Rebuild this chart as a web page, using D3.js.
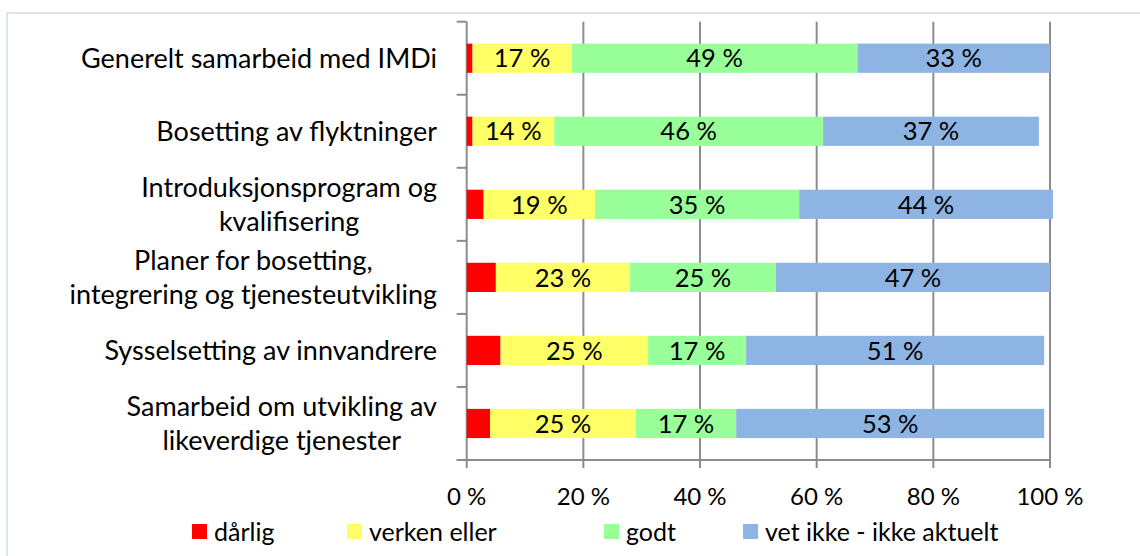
<!DOCTYPE html>
<html>
<head>
<meta charset="utf-8">
<script src="https://cdn.jsdelivr.net/npm/d3@7"></script>
<style>
  body { margin: 0; background: #fff; }
  svg text { font-family: Lato, "Open Sans", sans-serif; fill: #000; }
</style>
</head>
<body>
<svg width="1140" height="556"></svg>
<script>
const categories = [
  "Generelt samarbeid med IMDi",
  "Bosetting av flyktninger",
  "Introduksjonsprogram og kvalifisering",
  "Planer for bosetting, integrering og tjenesteutvikling",
  "Sysselsetting av innvandrere",
  "Samarbeid om utvikling av likeverdige tjenester"
];
const categoryLines = [
  ["Generelt samarbeid med IMDi"],
  ["Bosetting av flyktninger"],
  ["Introduksjonsprogram og", "kvalifisering"],
  ["Planer for bosetting,", "integrering og tjenesteutvikling"],
  ["Sysselsetting av innvandrere"],
  ["Samarbeid om utvikling av", "likeverdige tjenester"]
];
const seriesNames = ["dårlig", "verken eller", "godt", "vet ikke - ikke aktuelt"];
const seriesColors = ["#ff0000", "#ffff66", "#99ff99", "#8eb4e3"];

// percent values per category
const darlig = [1.0, 1.0, 2.9, 5.0, 5.8, 4.0];
const verken = [17.0, 14.0, 19.1, 23.0, 25.3, 25.0];
const godt = [49.0, 46.1, 35.0, 25.0, 16.8, 17.2];
const vetIkke = [33.0, 37.0, 43.5, 47.0, 51.1, 52.8];
const showLabel = [false, true, true, true];

const xTicks = [0, 20, 40, 60, 80, 100];

const rows = categories.map((c, i) => ({
  cat: c,
  "dårlig": darlig[i],
  "verken eller": verken[i],
  "godt": godt[i],
  "vet ikke - ikke aktuelt": vetIkke[i]
}));

const svg = d3.select("svg");
const plot = { left: 466.7, right: 1050, top: 21.7, bottom: 460 };
const fontSize = 24;
const barFontSize = 25.5;
const legendFontSize = 25;
const catFontSize = 27;

// frame
svg.append("rect")
  .attr("x", 7).attr("y", 13)
  .attr("width", 1200).attr("height", 600)
  .attr("fill", "none")
  .attr("stroke", "#dbe4f0")
  .attr("stroke-width", 2);

const x = d3.scaleLinear().domain([0, 100]).range([plot.left, plot.right]);
const y = d3.scaleBand()
  .domain(categories)
  .range([plot.top, plot.bottom])
  .paddingInner(0.6)
  .paddingOuter(0.3);

const gridColor = "#8c8c8c";

// gridlines
svg.append("g")
  .selectAll("line")
  .data(xTicks)
  .join("line")
  .attr("x1", d => x(d)).attr("x2", d => x(d))
  .attr("y1", plot.top).attr("y2", plot.bottom + 8)
  .attr("stroke", gridColor)
  .attr("stroke-width", 2);

// bottom axis line
svg.append("line")
  .attr("x1", plot.left - 10).attr("x2", plot.right)
  .attr("y1", plot.bottom).attr("y2", plot.bottom)
  .attr("stroke", gridColor).attr("stroke-width", 2);

// category ticks on left
const catTicks = d3.range(categories.length + 1).map(i => plot.top + i * (plot.bottom - plot.top) / categories.length);
svg.append("g")
  .selectAll("line")
  .data(catTicks)
  .join("line")
  .attr("x1", plot.left - 10).attr("x2", plot.left)
  .attr("y1", d => d).attr("y2", d => d)
  .attr("stroke", gridColor).attr("stroke-width", 2);

// x tick labels
svg.append("g")
  .selectAll("text")
  .data(xTicks)
  .join("text")
  .attr("x", d => x(d))
  .attr("y", 505)
  .attr("text-anchor", "middle")
  .style("font-size", fontSize + "px")
  .text(d => d + " %");

// stacked bars
const stack = d3.stack().keys(seriesNames)(rows);

const layers = svg.append("g")
  .selectAll("g")
  .data(stack)
  .join("g")
  .attr("fill", (d, i) => seriesColors[i]);

layers.selectAll("rect")
  .data(d => d)
  .join("rect")
  .attr("x", d => x(d[0]))
  .attr("width", d => x(d[1]) - x(d[0]))
  .attr("y", d => y(d.data.cat))
  .attr("height", y.bandwidth());

layers.filter((d, i) => showLabel[i])
  .selectAll("text")
  .data(d => d.map(v => ({ v, key: d.key })))
  .join("text")
  .attr("x", d => (x(d.v[0]) + x(d.v[1])) / 2)
  .attr("y", d => y(d.v.data.cat) + y.bandwidth() / 2)
  .attr("dy", "0.36em")
  .attr("text-anchor", "middle")
  .style("font-size", barFontSize + "px")
  .attr("fill", "#000")
  .text(d => Math.round(d.v.data[d.key]) + " %");

// category labels
const labelRight = 437;
const lineH = 34;
categoryLines.forEach((lines, i) => {
  const cy = y(categories[i]) + y.bandwidth() / 2;
  const g = svg.append("g");
  const texts = g.selectAll("text")
    .data(lines)
    .join("text")
    .attr("y", (d, j) => cy + (j - (lines.length - 1) / 2) * lineH)
    .attr("dy", "0.36em")
    .attr("text-anchor", "middle")
    .style("font-size", catFontSize + "px")
    .text(d => d);
  const maxW = d3.max(texts.nodes(), n => n.getComputedTextLength());
  texts.attr("x", labelRight - maxW / 2);
});

// legend (item left edges as laid out in the original)
const legendX = [192, 347, 604, 743];
const sw = 15, gapText = 7;
const items = svg.append("g")
  .selectAll("g")
  .data(seriesNames)
  .join("g")
  .attr("transform", (d, i) => `translate(${legendX[i]},0)`);
items.append("rect")
  .attr("width", sw).attr("height", sw)
  .attr("y", 524)
  .attr("fill", (d, i) => seriesColors[i]);
items.append("text")
  .attr("x", sw + gapText)
  .attr("y", 532)
  .attr("dy", "0.36em")
  .style("font-size", legendFontSize + "px")
  .text(d => d);
</script>
</body>
</html>
